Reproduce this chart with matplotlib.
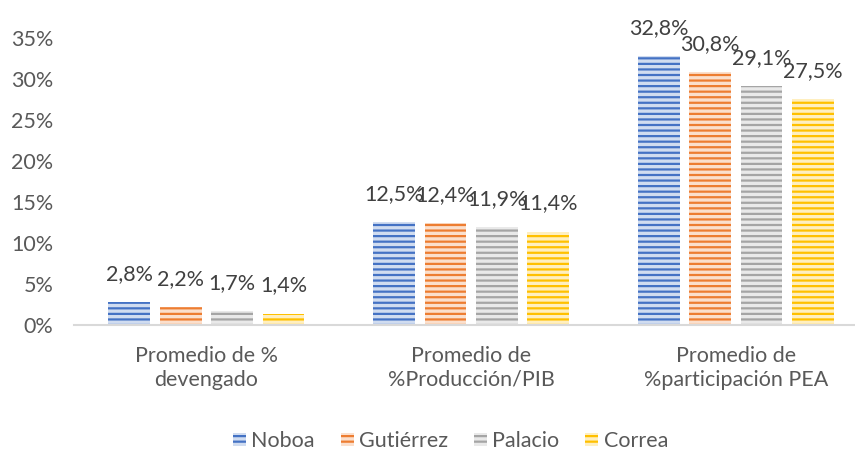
import matplotlib
matplotlib.use("Agg")
import matplotlib.pyplot as plt
from matplotlib.patches import Patch
from matplotlib.colors import to_rgb
import numpy as np

categories = ["Promedio de %\ndevengado", "Promedio de\n%Producción/PIB", "Promedio de\n%participación PEA"]
series_names = ["Noboa", "Gutiérrez", "Palacio", "Correa"]
noboa = [0.028, 0.125, 0.328]
gutierrez = [0.022, 0.124, 0.308]
palacio = [0.017, 0.119, 0.291]
correa = [0.014, 0.114, 0.275]
label_text = [["2,8%", "12,5%", "32,8%"], ["2,2%", "12,4%", "30,8%"],
              ["1,7%", "11,9%", "29,1%"], ["1,4%", "11,4%", "27,5%"]]
yticks = [0, 0.05, 0.10, 0.15, 0.20, 0.25, 0.30, 0.35]
ytick_labels = ["0%", "5%", "10%", "15%", "20%", "25%", "30%", "35%"]
colors = ["#4472C4", "#ED7D31", "#A5A5A5", "#FFC000"]

plt.rcParams['font.family'] = ['Lato', 'DejaVu Sans']
plt.rcParams['hatch.linewidth'] = 1.6

def tint(c, f=0.75):
    r, g, b = to_rgb(c)
    return (r + (1 - r) * f, g + (1 - g) * f, b + (1 - b) * f)

FS = 15.5
fig = plt.figure(figsize=(8.55, 4.5), dpi=100)
ax = fig.add_axes([0.0866, 0.2778, 0.9134, 0.6378])

values = [noboa, gutierrez, palacio, correa]
x = np.arange(len(categories))
width = 0.158
step = 0.194
for i, (vals, col) in enumerate(zip(values, colors)):
    pos = x + (i - 1.5) * step
    ax.bar(pos, vals, width, facecolor=tint(col), edgecolor=col,
           linewidth=0, hatch='---')
    for p, v, t in zip(pos, vals, label_text[i]):
        ax.annotate(t, (p, v), xytext=(0, 13), textcoords='offset points',
                    ha='center', va='bottom', fontsize=FS, color='#404040')

ax.set_xlim(-0.5, 2.45)
ax.set_ylim(0, 0.35)
ax.set_yticks(yticks)
ax.set_yticklabels(ytick_labels, fontsize=FS, color='#595959')
ax.set_xticks(x)
ax.set_xticklabels(categories, fontsize=FS, color='#595959', linespacing=1.25)
ax.tick_params(axis='both', length=0)
ax.tick_params(axis='y', pad=15)
ax.tick_params(axis='x', pad=15)
for s in ['top', 'right', 'left']:
    ax.spines[s].set_visible(False)
ax.spines['bottom'].set_color('#D9D9D9')
ax.spines['bottom'].set_linewidth(1.5)

handles = [Patch(facecolor=tint(c), edgecolor=c, linewidth=0, hatch='---') for c in colors]
fig.legend(handles, series_names, loc='center', bbox_to_anchor=(0.527, 0.02),
           ncol=4, frameon=False, fontsize=FS, handlelength=0.6, handleheight=0.6,
           handletextpad=0.25, columnspacing=1.2, labelcolor='#595959')

fig.savefig("out.png", dpi=100)
